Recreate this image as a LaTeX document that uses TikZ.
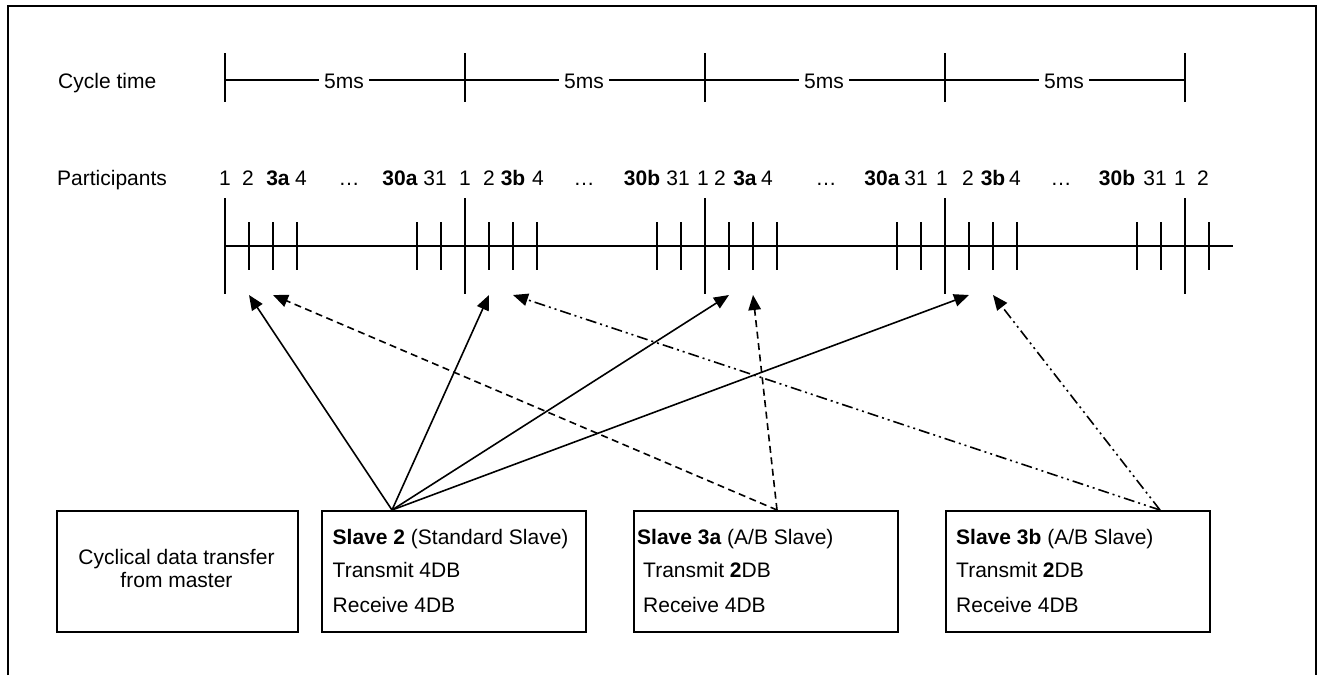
\documentclass[tikz,border=0pt]{standalone}
\usepackage{fontspec}
\setmainfont{Liberation Sans}
\usetikzlibrary{arrows.meta,calc}
\begin{document}
\begin{tikzpicture}[x=1pt,y=-1pt,
  every node/.style={font=\fontsize{21pt}{25pt}\selectfont, inner sep=0pt},
  lbl/.style={anchor=base west},
  num/.style={anchor=base},
  tick/.style={line width=2pt},
  box/.style={draw, line width=2.2pt, anchor=north west, minimum height=121pt},
  arr/.style={line width=1.6pt, -{Triangle[length=15pt,width=12.5pt]}},
  dsh/.style={arr, dash pattern=on 7pt off 4.5pt},
  ddot/.style={arr, dash pattern=on 11pt off 4pt on 2pt off 4pt on 2pt off 4pt}]
\useasboundingbox (0,0) rectangle (1319,675);

% outer frame, open at the bottom
\draw[line width=2.5pt] (8,675) -- (8,6) -- (1316,6) -- (1316,675);

% cycle time scale
\node[lbl] (clabel) at (58,88) {Cycle time};
\draw[line width=1.6pt] (225,80) -- (1185,80);
\foreach \x in {225,465,705,945,1185}
  \draw[tick] (\x,53) -- (\x,102);
\foreach \x [count=\i] in {344,584,824,1064}
  \node[num, fill=white, inner xsep=5pt, inner ysep=1pt] (c\i) at (\x,88) {5ms};

% participants and time line
\node[lbl] (plabel) at (57,185) {Participants};
\foreach \x/\t [count=\i] in {225/1,248/2,278/\textbf{3a},301/4,349/…,400/\textbf{30a},435/31,
  465/1,489/2,513/\textbf{3b},538/4,584/…,642/\textbf{30b},678/31,
  703/1,720/2,745/\textbf{3a},767/4,826/…,882/\textbf{30a},916/31,
  942/1,968/2,993/\textbf{3b},1015/4,1061/…,1117/\textbf{30b},1155/31,
  1180/1,1203/2}
  \node[num] (n\i) at (\x,185) {\t};

\draw[tick] (225,246) -- (1233,246);
\foreach \L in {225,465,705,945,1185}
  \draw[tick] (\L,198) -- (\L,294);
\foreach \L in {225,465,705,945}
  \foreach \d in {24,48,72,192,216}
    \draw[tick] (\L+\d,222) -- (\L+\d,270);
\draw[tick] (1209,222) -- (1209,270);

% arrow targets below the time line
\coordinate (t1) at (249,295);
\coordinate (t2) at (489,295);
\coordinate (t3) at (729,295);
\coordinate (t4) at (969,295);
\coordinate (a1) at (273,295);
\coordinate (a2) at (753,295);
\coordinate (b1) at (513,295);
\coordinate (b2) at (993,295);

% boxes
\node[box, minimum width=241pt] (m) at (56,510) {};
\node[box, minimum width=264pt] (s2) at (321,510) {};
\node[box, minimum width=264pt] (s3a) at (633,510) {};
\node[box, minimum width=264pt] (s3b) at (945,510) {};

\node[num] (mt1) at (176.5,564) {Cyclical data transfer};
\node[num] (mt2) at (176.5,587) {from master};

\node[lbl] (s2a) at (332.5,544) {\textbf{Slave 2} (Standard Slave)};
\node[lbl] (s2b) at (332.5,577) {Transmit 4DB};
\node[lbl] (s2c) at (332.5,612) {Receive 4DB};

\node[lbl] (s3aa) at (637,544) {\textbf{Slave 3a} (A/B Slave)};
\node[lbl] (s3ab) at (643,577) {Transmit \textbf{2}DB};
\node[lbl] (s3ac) at (643,612) {Receive 4DB};

\node[lbl] (s3ba) at (956,544) {\textbf{Slave 3b} (A/B Slave)};
\node[lbl] (s3bb) at (956,577) {Transmit \textbf{2}DB};
\node[lbl] (s3bc) at (956,612) {Receive 4DB};

% arrow sources on the box tops
\coordinate (s2src) at ([xshift=71pt]s2.north west);
\coordinate (s3asrc) at ([xshift=144pt]s3a.north west);
\coordinate (s3bsrc) at ([xshift=215pt]s3b.north west);

\draw[arr] (s2src) -- (t1);
\draw[arr] (s2src) -- (t2);
\draw[arr] (s2src) -- (t3);
\draw[arr] (s2src) -- (t4);
\draw[dsh] (s3asrc) -- (a1);
\draw[dsh] (s3asrc) -- (a2);
\draw[ddot] (s3bsrc) -- (b1);
\draw[ddot] (s3bsrc) -- (b2);
\end{tikzpicture}
\end{document}
